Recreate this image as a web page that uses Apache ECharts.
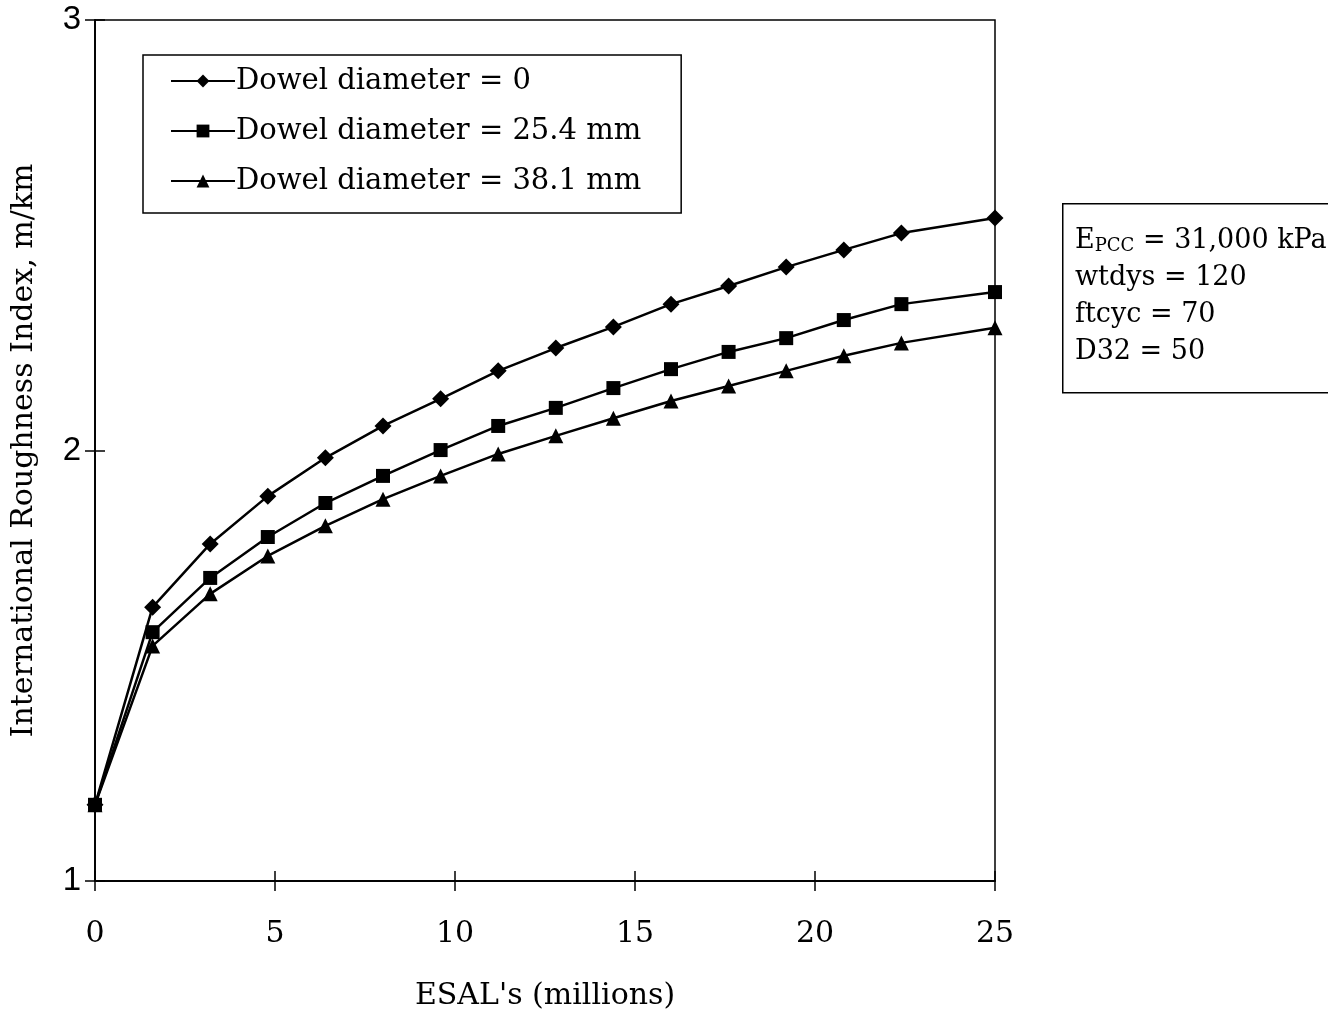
<!DOCTYPE html>
<html><head><meta charset="utf-8">
<script src="https://cdn.jsdelivr.net/npm/echarts@6/dist/echarts.min.js"></script>
<style>html,body{margin:0;padding:0;background:#fff}#c{width:1328px;height:1013px}</style>
</head><body><div id="c"></div>
<script>
const esal = [0, 1.6, 3.2, 4.8, 6.4, 8.0, 9.6, 11.2, 12.8, 14.4, 16.0, 17.6, 19.2, 20.8, 22.4, 25];
const iriDowel0 = [1.177, 1.636, 1.783, 1.894, 1.983, 2.057, 2.12, 2.185, 2.238, 2.287, 2.34, 2.382, 2.426, 2.466, 2.505, 2.54];
const iriDowel254 = [1.177, 1.578, 1.704, 1.799, 1.878, 1.941, 2.001, 2.057, 2.099, 2.145, 2.189, 2.229, 2.261, 2.303, 2.34, 2.368];
const iriDowel381 = [1.177, 1.546, 1.667, 1.755, 1.825, 1.887, 1.941, 1.992, 2.034, 2.075, 2.115, 2.15, 2.185, 2.22, 2.25, 2.285];
const seriesNames = ['Dowel diameter = 0', 'Dowel diameter = 25.4 mm', 'Dowel diameter = 38.1 mm'];
const annotationLines = ['{n|E}{s|PCC}{n| = 31,000 kPa}', 'wtdys = 120', 'ftcyc = 70', 'D32 = 50'];

const serif = 'DejaVu Serif';
const pair = (xs, ys) => xs.map((x, i) => [x, ys[i]]);
const chart = echarts.init(document.getElementById('c'));
const mk = (name, data, symbol, size) => ({
  name, type: 'line', data: pair(esal, data), symbol, symbolSize: size,
  lineStyle: {color: '#000', width: 2.5}, itemStyle: {color: '#000'},
  emphasis: {disabled: true}, animation: false
});
chart.setOption({
  animation: false,
  grid: {left: 95, right: 333, top: 20, bottom: 132, show: true, borderColor: '#000', borderWidth: 1.5,
    containLabel: false, outerBoundsMode: 'none'},
  legend: {
    orient: 'vertical', left: 143, top: 55, itemWidth: 64, itemHeight: 16, itemGap: 16,
    padding: [9, 40, 15, 27], borderColor: '#000', borderWidth: 1.5, backgroundColor: '#fff',
    textStyle: {fontFamily: serif, fontSize: 29, lineHeight: 34, color: '#000', padding: [0, 0, 0, -4]},
    data: seriesNames
  },
  xAxis: [{
    type: 'value', min: 0, max: 25, interval: 5,
    axisLine: {lineStyle: {color: '#000', width: 1.5}},
    axisTick: {show: true, inside: false, length: 10, lineStyle: {color: '#000', width: 1.5}},
    axisLabel: {fontFamily: serif, fontSize: 30, color: '#000', margin: 38},
    splitLine: {show: false},
    name: "ESAL's (millions)", nameLocation: 'middle', nameGap: 100,
    nameTextStyle: {fontFamily: serif, fontSize: 30, color: '#000'}
  }, {
    type: 'value', min: 0, max: 25, interval: 5, position: 'bottom', offset: 0,
    axisLine: {show: true, lineStyle: {color: '#000', width: 1.5}}, axisLabel: {show: false}, splitLine: {show: false},
    axisTick: {show: true, inside: true, length: 10, lineStyle: {color: '#000', width: 1.5}}
  }],
  yAxis: [{
    type: 'value', min: 1, max: 3, interval: 1,
    axisLine: {show: true, lineStyle: {color: '#000', width: 1.5}},
    axisTick: {show: true, inside: false, length: 10, lineStyle: {color: '#000', width: 1.5}},
    axisLabel: {fontFamily: 'Liberation Sans', fontSize: 33, color: '#000', margin: 14},
    splitLine: {show: false},
    name: 'International Roughness Index, m/km', nameLocation: 'middle', nameGap: 56,
    nameTextStyle: {fontFamily: serif, fontSize: 30, color: '#000'}
  }, {
    type: 'value', min: 1, max: 3, interval: 1, position: 'left', offset: 0,
    axisLine: {show: true, lineStyle: {color: '#000', width: 1.5}}, axisLabel: {show: false}, splitLine: {show: false},
    axisTick: {show: true, inside: true, length: 10, lineStyle: {color: '#000', width: 1.5}}
  }],
  series: [
    mk(seriesNames[0], iriDowel0, 'diamond', 17),
    mk(seriesNames[1], iriDowel254, 'rect', 14),
    mk(seriesNames[2], iriDowel381, 'triangle', 15)
  ],
  graphic: [{
    type: 'rect', left: 1062, top: 203, shape: {width: 300, height: 189},
    style: {fill: '#fff', stroke: '#000', lineWidth: 1.5}
  }, {
    type: 'text', left: 1075, top: 222,
    style: {
      text: annotationLines.join('\n'),
      fontFamily: serif, fontSize: 27, lineHeight: 37, fill: '#000',
      rich: {
        n: {fontFamily: serif, fontSize: 27, lineHeight: 37, fill: '#000'},
        s: {fontFamily: serif, fontSize: 18, lineHeight: 37, fill: '#000', padding: [12, 0, 0, 0]}
      }
    }
  }]
});
</script></body></html>
